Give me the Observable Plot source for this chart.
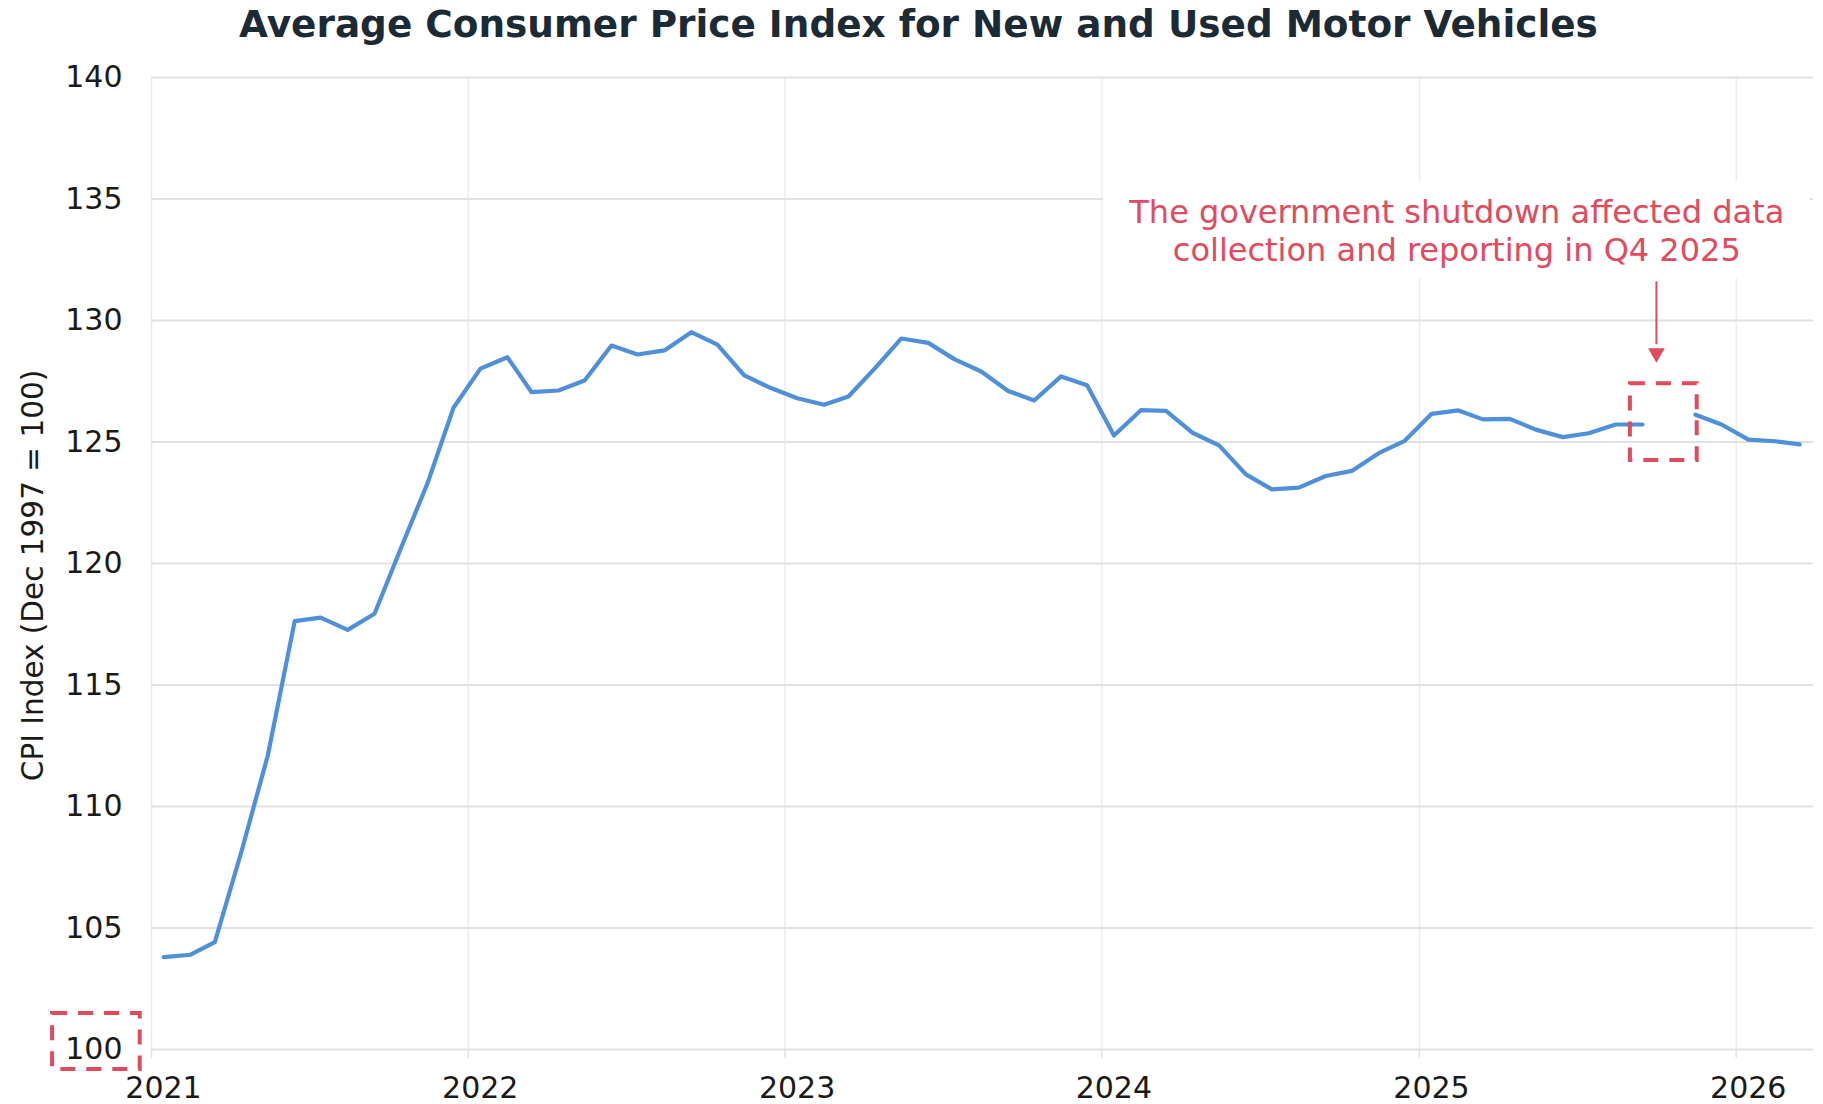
<!DOCTYPE html>
<html><head><meta charset="utf-8">
<script src="https://cdn.jsdelivr.net/npm/d3@7"></script>
<script src="https://cdn.jsdelivr.net/npm/@observablehq/plot@0.6"></script>
<style>
html,body{margin:0;padding:0;background:#fff;}
#title{height:50px;width:1809px;padding-left:14px;font-family:"DejaVu Sans";font-weight:bold;font-size:37.4px;color:#1c2a36;text-align:center;line-height:48px;white-space:nowrap;}
#chart svg{display:block;}
</style></head><body>
<div id="title">Average Consumer Price Index for New and Used Motor Vehicles</div>
<div id="chart"></div>
<script>
const months = [
  "2021-01-15","2021-02-15","2021-03-15","2021-04-15","2021-05-15","2021-06-15","2021-07-15","2021-08-15","2021-09-15","2021-10-15","2021-11-15","2021-12-15",
  "2022-01-15","2022-02-15","2022-03-15","2022-04-15","2022-05-15","2022-06-15","2022-07-15","2022-08-15","2022-09-15","2022-10-15","2022-11-15","2022-12-15",
  "2023-01-15","2023-02-15","2023-03-15","2023-04-15","2023-05-15","2023-06-15","2023-07-15","2023-08-15","2023-09-15","2023-10-15","2023-11-15","2023-12-15",
  "2024-01-15","2024-02-15","2024-03-15","2024-04-15","2024-05-15","2024-06-15","2024-07-15","2024-08-15","2024-09-15","2024-10-15","2024-11-15","2024-12-15",
  "2025-01-15","2025-02-15","2025-03-15","2025-04-15","2025-05-15","2025-06-15","2025-07-15","2025-08-15","2025-09-15","2025-10-15","2025-11-15","2025-12-15",
  "2026-01-15","2026-02-15","2026-03-15"
];
const cpi = [
  103.80,103.90,104.42,108.19,112.10,117.63,117.77,117.27,117.93,120.60,123.30,126.41,
  128.02,128.49,127.05,127.12,127.53,128.97,128.60,128.77,129.52,129.01,127.74,127.23,
  126.80,126.53,126.87,128.05,129.26,129.08,128.41,127.90,127.10,126.71,127.70,127.34,
  125.27,126.31,126.28,125.37,124.86,123.67,123.05,123.12,123.60,123.81,124.54,125.05,
  126.16,126.30,125.93,125.95,125.51,125.20,125.36,125.72,125.72,null,126.12,125.72,
  125.10,125.03,124.90
];
const yTicks = [100,105,110,115,120,125,130,135,140];
const xTicks = ["2021-01-01","2022-01-01","2023-01-01","2024-01-01","2025-01-01","2026-01-01"];
const xDomain = ["2021-01-01","2026-03-31"];
const yLabel = "CPI Index (Dec 1997 = 100)";
const noteLines = ["The government shutdown affected data","collection and reporting in Q4 2025"];

// annotation geometry (in data units)
const noteBg = [{x1:"2024-01-03", x2:"2026-03-27", y1:131.73, y2:135.72}];
const noteAnchor = [{x:"2025-02-13", y:133.72}];
const arrowAt = [{x:"2025-10-01", y1:131.59, y2:129.0, tip:128.66}];
const gapBox = [{x1:"2025-09-01", x2:"2025-11-17", y1:124.24, y2:127.40}];
const tickBox = [{x1:"2020-09-09", x2:"2020-12-19", y1:99.18, y2:101.48}];

const RED = "#e04b5e";
const BLUE = "#5090da";
const parse = s => new Date(s);
const series = months.map((m, i) => ({date: parse(m), value: cpi[i]}));
const xTickDates = xTicks.map(parse);

const chart = Plot.plot({
  width: 1823,
  height: 1054,
  marginTop: 27,
  marginBottom: 55,
  marginLeft: 151,
  marginRight: 10,
  style: {fontFamily: "DejaVu Sans", fontSize: "30px", color: "#1a1a1a", background: "white", overflow: "visible"},
  x: {type: "utc", domain: xDomain.map(parse)},
  y: {domain: [100, 140]},
  marks: [
    Plot.gridX(xTickDates, {stroke: "#ececec", strokeOpacity: 1, strokeWidth: 1.5}),
    Plot.gridY(yTicks, {stroke: "#e2e2e2", strokeOpacity: 1, strokeWidth: 2}),
    Plot.rect(noteBg, {x1: d => parse(d.x1), x2: d => parse(d.x2), y1: "y1", y2: "y2", fill: "white"}),
    Plot.axisX(xTickDates, {tickSize: 9, tickFormat: () => null, stroke: "#e2e2e2", strokeWidth: 1.5, label: null}),
    Plot.axisX(xTickDates, {tickSize: 0, tickPadding: 27, dx: 12, tickFormat: "%Y", label: null, fill: "#1a1a1a"}),
    Plot.axisY(yTicks, {tickSize: 0, tickPadding: 29, label: null, fill: "#1a1a1a"}),
    Plot.text([yLabel], {text: d => d, frameAnchor: "left", textAnchor: "middle", dx: -118, dy: 12, rotate: -90, fontSize: 29.5, fill: "#1a1a1a"}),
    Plot.line(series, {x: "date", y: "value", stroke: BLUE, strokeWidth: 4.2, strokeLinejoin: "round", strokeLinecap: "round"}),
    Plot.rect(gapBox, {x1: d => parse(d.x1), x2: d => parse(d.x2), y1: "y1", y2: "y2", fill: "none", stroke: RED, strokeWidth: 4, strokeDasharray: "15,11"}),
    Plot.rect(tickBox, {x1: d => parse(d.x1), x2: d => parse(d.x2), y1: "y1", y2: "y2", fill: "none", stroke: RED, strokeWidth: 4, strokeDasharray: "15,11"}),
    Plot.ruleX(arrowAt, {x: d => parse(d.x), y1: "y1", y2: "y2", stroke: RED, strokeWidth: 2}),
    Plot.dot(arrowAt, {x: d => parse(d.x), y: "tip", symbol: "triangle", r: 6.2, rotate: 180, fill: RED, stroke: "none"}),
    Plot.text(noteAnchor, {x: d => parse(d.x), y: "y", text: () => noteLines.join("\n"), fontSize: 32, lineHeight: 1.16, fill: RED, textAnchor: "middle"})
  ]
});
document.getElementById("chart").appendChild(chart);
</script>
</body></html>
